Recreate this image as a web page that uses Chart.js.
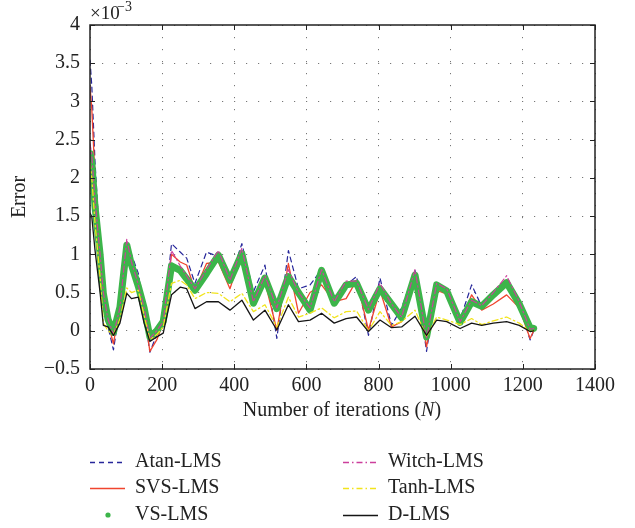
<!DOCTYPE html>
<html>
<head>
<meta charset="utf-8">
<script src="https://cdn.jsdelivr.net/npm/chart.js@4.4.1/dist/chart.umd.min.js"></script>
<style>
  html, body { margin: 0; padding: 0; background: #fff; }
</style>
</head>
<body>
<canvas id="grafico" width="635" height="528"></canvas>
<script>
// === DADOS (erro em unidades de 1e-3) ===
const iteracoes = [0, 5, 14, 28, 37, 50, 65, 83, 102, 115, 134, 150, 166, 185, 203, 226, 250, 268, 291, 323,
  356, 388, 421, 453, 485, 518, 550, 578, 610, 642, 677, 710, 739, 772, 804, 836, 864, 901, 933, 961,
  989, 1026, 1058, 1086, 1118, 1155, 1190, 1220, 1230];

const atanLMS = [3.54, 3.2, 2.2, 1.1, 0.45, 0.05, -0.25, 0.3, 1.12, 1.0, 0.75, 0.25, -0.28, -0.05, 0.1, 1.14, 1.03, 0.95, 0.62, 1.03,
  0.97, 0.66, 1.14, 0.51, 0.86, -0.1, 1.05, 0.55, 0.6, 0.8, 0.45, 0.6, 0.71, -0.06, 0.69, 0.07, 0.3, 0.79, -0.27, 0.6,
  0.55, 0.15, 0.6, 0.32, 0.45, 0.6, 0.35, -0.12, 0.0];

const svsLMS = [3.2, 2.9, 2.0, 1.0, 0.45, 0.1, -0.17, 0.35, 1.15, 0.95, 0.62, 0.25, -0.27, -0.12, 0.1, 1.0, 0.9, 0.86, 0.53, 0.88,
  0.9, 0.55, 1.03, 0.45, 0.64, 0.01, 0.88, 0.23, 0.5, 0.6, 0.38, 0.42, 0.66, 0.01, 0.53, 0.05, 0.12, 0.7, -0.21, 0.53,
  0.48, 0.1, 0.47, 0.27, 0.35, 0.47, 0.3, -0.1, 0.0];

const vsLMS = [2.32, 2.2, 1.62, 1.0, 0.49, 0.15, -0.02, 0.31, 1.12, 0.86, 0.58, 0.3, -0.08, 0.0, 0.12, 0.85, 0.79, 0.68, 0.53, 0.75,
  0.99, 0.66, 1.01, 0.36, 0.69, 0.29, 0.71, 0.5, 0.27, 0.79, 0.36, 0.6, 0.62, 0.27, 0.55, 0.35, 0.17, 0.73, -0.08, 0.6,
  0.52, 0.11, 0.38, 0.32, 0.47, 0.63, 0.35, 0.04, 0.03];

const witchLMS = [2.45, 2.3, 1.7, 1.0, 0.5, 0.15, -0.05, 0.3, 1.2, 0.9, 0.6, 0.3, -0.1, 0.0, 0.12, 1.05, 0.85, 0.72, 0.55, 0.8,
  1.05, 0.66, 1.08, 0.38, 0.72, 0.3, 0.8, 0.5, 0.3, 0.8, 0.38, 0.65, 0.65, 0.28, 0.62, 0.35, 0.18, 0.8, -0.1, 0.62,
  0.55, 0.12, 0.4, 0.33, 0.5, 0.72, 0.38, 0.02, 0.03];

const tanhLMS = [2.2, 2.0, 1.4, 0.7, 0.1, 0.0, -0.05, 0.15, 0.56, 0.5, 0.53, 0.2, -0.12, -0.05, 0.05, 0.62, 0.66, 0.6, 0.42, 0.5,
  0.49, 0.38, 0.49, 0.25, 0.34, 0.05, 0.44, 0.18, 0.23, 0.3, 0.17, 0.25, 0.26, 0.0, 0.25, 0.07, 0.12, 0.27, -0.08, 0.18,
  0.14, 0.08, 0.16, 0.08, 0.13, 0.18, 0.1, -0.01, 0.0];

const dLMS = [1.54, 1.49, 1.05, 0.5, 0.07, 0.05, -0.06, 0.1, 0.49, 0.42, 0.44, 0.1, -0.14, -0.08, -0.03, 0.47, 0.57, 0.55, 0.29, 0.38,
  0.38, 0.27, 0.4, 0.14, 0.27, 0.01, 0.34, 0.12, 0.14, 0.23, 0.1, 0.16, 0.18, -0.01, 0.14, 0.04, 0.05, 0.19, -0.06, 0.14,
  0.12, 0.03, 0.1, 0.07, 0.1, 0.12, 0.07, -0.01, 0.0];

const ticksX = [0, 200, 400, 600, 800, 1000, 1200, 1400];
const ticksY = [-0.5, 0, 0.5, 1, 1.5, 2, 2.5, 3, 3.5, 4];

const FONTE = '"Liberation Serif", "DejaVu Serif", serif';

const pontos = arr => iteracoes.map((n, i) => ({ x: n, y: arr[i] }));

// === SERIES ===
const series = [
  { label: 'Atan-LMS', data: atanLMS, color: '#26269a', width: 1.2, dash: [5, 4], order: 6 },
  { label: 'SVS-LMS', data: svsLMS, color: '#f0442e', width: 1.3, dash: [], order: 5 },
  { label: 'VS-LMS', data: vsLMS, color: '#3cb54a', width: 7, dash: [], order: 4, dot: true },
  { label: 'Witch-LMS', data: witchLMS, color: '#cc3f9c', width: 1.2, dash: [6, 3, 1.5, 3], order: 3 },
  { label: 'Tanh-LMS', data: tanhLMS, color: '#f2e41c', width: 1.3, dash: [6, 3, 1.5, 3], order: 2 },
  { label: 'D-LMS', data: dLMS, color: '#151515', width: 1.3, dash: [], order: 1 }
];

// === MOLDURA, TEXTOS E LEGENDA ===
const molduraPlugin = {
  id: 'moldura',
  afterDatasetsDraw(chart) {
    const { ctx, chartArea: a, scales } = chart;
    ctx.save();
    ctx.strokeStyle = '#222';
    ctx.lineWidth = 1.5;
    ctx.setLineDash([]);
    ctx.strokeRect(a.left, a.top, a.right - a.left, a.bottom - a.top);
    ctx.lineWidth = 1;
    ctx.beginPath();
    ticksX.forEach(v => {
      const x = Math.round(scales.x.getPixelForValue(v)) + 0.5;
      ctx.moveTo(x, a.bottom); ctx.lineTo(x, a.bottom - 5);
      ctx.moveTo(x, a.top); ctx.lineTo(x, a.top + 5);
    });
    ticksY.forEach(v => {
      const y = Math.round(scales.y.getPixelForValue(v)) + 0.5;
      ctx.moveTo(a.left, y); ctx.lineTo(a.left + 5, y);
      ctx.moveTo(a.right, y); ctx.lineTo(a.right - 5, y);
    });
    ctx.stroke();
    ctx.restore();
  },
  afterDraw(chart) {
    const { ctx, chartArea: a } = chart;
    ctx.save();
    ctx.fillStyle = '#222';
    ctx.textBaseline = 'middle';

    // multiplicador do eixo y
    ctx.textAlign = 'left';
    ctx.font = '19px ' + FONTE;
    ctx.fillText('\u00d710', a.left, 14);
    ctx.font = '14px ' + FONTE;
    ctx.fillText('\u22123', a.left + 27, 7);

    // titulos dos eixos
    ctx.font = '20px ' + FONTE;
    const tituloX = 'Number of iterations (';
    const larg = ctx.measureText(tituloX).width + ctx.measureText('N)').width;
    let x0 = (a.left + a.right) / 2 - larg / 2;
    ctx.textAlign = 'left';
    ctx.fillText(tituloX, x0, 411);
    x0 += ctx.measureText(tituloX).width;
    ctx.font = 'italic 20px ' + FONTE;
    ctx.fillText('N', x0, 411);
    x0 += ctx.measureText('N').width;
    ctx.font = '20px ' + FONTE;
    ctx.fillText(')', x0, 411);

    ctx.save();
    ctx.translate(20, (a.top + a.bottom) / 2);
    ctx.rotate(-Math.PI / 2);
    ctx.textAlign = 'center';
    ctx.fillText('Error', 0, 0);
    ctx.restore();

    // legenda em duas colunas
    const colunas = [90, 343];
    const linhas = [462, 488, 515];
    const ordem = ['Atan-LMS', 'Witch-LMS', 'SVS-LMS', 'Tanh-LMS', 'VS-LMS', 'D-LMS'];
    ordem.forEach((nome, i) => {
      const s = series.find(d => d.label === nome);
      const x = colunas[i % 2];
      const y = linhas[Math.floor(i / 2)];
      if (s.dot) {
        ctx.fillStyle = s.color;
        ctx.beginPath();
        ctx.arc(x + 18, y, 2.6, 0, Math.PI * 2);
        ctx.fill();
      } else {
        ctx.strokeStyle = s.color;
        ctx.lineWidth = 1.3;
        ctx.setLineDash(s.dash);
        ctx.beginPath();
        ctx.moveTo(x, y + 0.5);
        ctx.lineTo(x + 35, y + 0.5);
        ctx.stroke();
        ctx.setLineDash([]);
      }
      ctx.fillStyle = '#222';
      ctx.textAlign = 'left';
      ctx.font = '20px ' + FONTE;
      ctx.fillText(s.label, x + 45, y);
    });
    ctx.restore();
  }
};

// === GRAFICO ===
const ctx = document.getElementById('grafico').getContext('2d');

const data = {
  datasets: series.map(s => ({
    label: s.label,
    data: pontos(s.data),
    borderColor: s.color,
    backgroundColor: s.color,
    borderWidth: s.width,
    borderDash: s.dash,
    borderCapStyle: 'round',
    borderJoinStyle: 'round',
    pointRadius: 0,
    tension: 0,
    fill: false,
    order: s.order
  }))
};

const options = {
  responsive: false,
  animation: false,
  devicePixelRatio: 1,
  layout: { padding: { top: 25, right: 40, left: 0, bottom: 0 } },
  plugins: {
    legend: { display: false },
    tooltip: { enabled: false }
  },
  scales: {
    x: {
      type: 'linear',
      min: 0,
      max: 1400,
      afterBuildTicks: s => { s.ticks = ticksX.map(v => ({ value: v })); },
      afterFit: s => { s.height = 528 - 369; },
      ticks: {
        color: '#222',
        padding: 5,
        font: { family: FONTE, size: 20 },
        maxRotation: 0,
        callback: v => String(v)
      },
      grid: { color: '#777', lineWidth: 1, drawTicks: false },
      border: { display: false, dash: [1.2, 10.8] }
    },
    y: {
      type: 'linear',
      min: -0.5,
      max: 4,
      afterBuildTicks: s => { s.ticks = ticksY.map(v => ({ value: v })); },
      afterFit: s => { s.width = 90; },
      ticks: {
        color: '#222',
        padding: 10,
        font: { family: FONTE, size: 20 },
        callback: v => String(v).replace('-', '\u2212')
      },
      grid: { color: '#777', lineWidth: 1, drawTicks: false },
      border: { display: false, dash: [1.2, 10.8] }
    }
  }
};

new Chart(ctx, { type: 'line', data, options, plugins: [molduraPlugin] });
</script>
</body>
</html>
